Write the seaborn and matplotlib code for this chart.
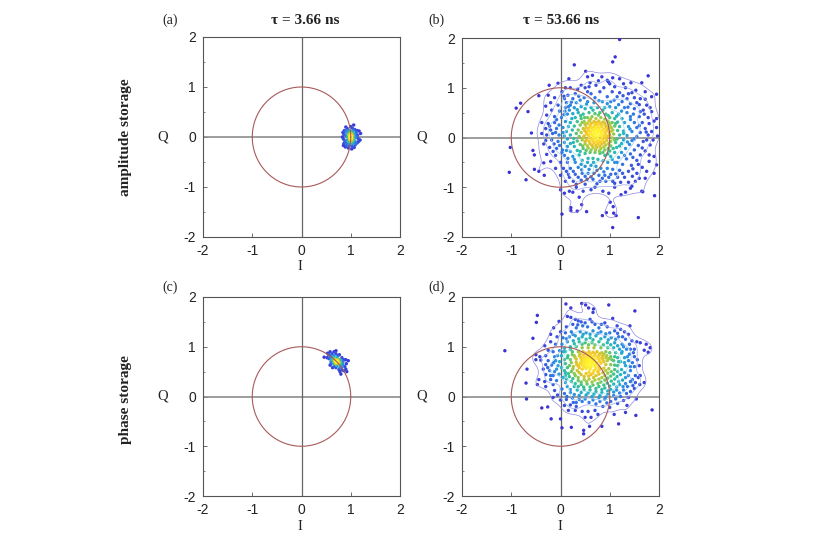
import numpy as np
import pandas as pd
import seaborn as sns
import matplotlib
matplotlib.use("Agg")
import matplotlib.pyplot as plt
from matplotlib.colors import LinearSegmentedColormap
from matplotlib.ticker import MultipleLocator

sns.set_theme(style="white")
plt.rcParams['font.family'] = ['Liberation Sans', 'DejaVu Sans']
plt.rcParams['axes.unicode_minus'] = False

# ---- values -----------------------------------------------------------------------
points_a = [(1.0,0.0),(0.98,0.02),(1.02,-0.02),(1.0,0.05),(1.0,-0.05),(0.97,-0.03),(1.03,0.03),(0.99,0.08),(1.01,-0.08),
 (0.96,0.05),(1.04,-0.05),(0.98,-0.1),(1.02,0.1),(0.94,0.0),(1.06,0.0),(1.0,0.12),(1.0,-0.13),(0.93,0.08),(1.07,-0.07),
 (0.92,-0.06),(1.08,0.06),(0.95,0.13),(1.05,0.13),(0.95,-0.14),(1.05,-0.13),(0.9,0.02),(1.1,-0.01),(0.89,0.1),(1.11,0.09),
 (0.9,-0.11),(1.1,-0.1),(0.93,0.17),(1.03,0.18),(1.08,0.15),(0.97,-0.18),(1.03,-0.19),(0.92,-0.16),(1.09,-0.16),
 (0.86,0.05),(0.85,-0.04),(1.14,0.04),(1.15,-0.03),(0.87,0.13),(1.13,0.13),(0.86,-0.13),(1.13,-0.12),(0.9,0.2),(1.0,0.21),
 (0.95,-0.22),(1.02,-0.24),(1.07,-0.21),(0.89,-0.2),(1.06,0.24),(1.2,0.07),(1.19,-0.06),(0.83,0.0),(0.85,-0.17),(1.17,0.12),
 (0.99,0.03),(1.01,0.03),(0.99,-0.03),(1.01,-0.04),(0.98,0.06),(1.02,0.06),(0.98,-0.06),(1.02,-0.07),(1.0,0.09),(1.0,-0.09),
 (1.0,0.01),(1.0,-0.02),(0.99,0.0),(1.01,0.0),(0.97,0.09),(1.03,-0.1),(0.96,-0.08),(1.04,0.08),(0.91,0.12),(1.09,-0.13),
 (0.84,0.09),(1.16,-0.09),(0.88,-0.08),(1.12,0.02)]

points_c = [(0.72,0.70),(0.70,0.72),(0.74,0.68),(0.68,0.74),(0.76,0.66),(0.66,0.76),(0.78,0.64),(0.71,0.68),(0.73,0.72),
 (0.69,0.70),(0.75,0.70),(0.64,0.78),(0.8,0.62),(0.67,0.71),(0.77,0.69),(0.70,0.66),(0.74,0.74),(0.62,0.80),(0.82,0.6),
 (0.64,0.72),(0.68,0.66),(0.76,0.74),(0.8,0.68),(0.72,0.62),(0.72,0.78),(0.6,0.76),(0.66,0.82),(0.78,0.58),(0.84,0.64),
 (0.6,0.7),(0.65,0.66),(0.79,0.74),(0.84,0.7),(0.7,0.58),(0.74,0.82),(0.58,0.82),(0.62,0.86),(0.82,0.54),(0.88,0.6),
 (0.56,0.76),(0.6,0.66),(0.66,0.6),(0.82,0.78),(0.86,0.74),(0.76,0.54),(0.7,0.86),(0.55,0.84),(0.66,0.9),(0.58,0.9),
 (0.78,0.5),(0.85,0.52),(0.91,0.66),(0.9,0.55),(0.52,0.78),(0.58,0.63),(0.63,0.58),(0.9,0.74),(0.77,0.84),(0.46,0.79),
 (0.8,0.45),(0.7,0.92),(0.95,0.72),(0.92,0.5),(0.53,0.87),
 (0.71,0.71),(0.73,0.69),(0.69,0.73),(0.75,0.67),(0.67,0.75),(0.72,0.73),(0.7,0.69),(0.65,0.8),(0.79,0.62),(0.62,0.74),(0.83,0.66)]

points_b = [(1.20,1.97),(1.11,1.62),(1.06,1.52),(0.28,1.46),(0.51,1.33),(1.78,1.24),(0.17,1.18),(-0.05,1.09),(-0.23,1.05),
 (-0.44,0.84),(-0.81,0.69),(-0.90,0.59),(-0.66,0.52),(-0.59,0.09),(-1.02,-0.20),(-1.04,-0.70),(-0.70,-0.85),(-0.53,-0.64),
 (-0.44,-0.68),(-0.56,-0.26),(-0.53,-0.35),(-0.33,-0.76),(-0.34,-0.51),(0.03,-1.54),(0.21,-1.41),(0.21,-1.47),(0.34,-1.48),
 (0.43,-1.35),(0.53,-1.49),(0.85,-1.57),(0.93,-1.51),(1.01,-1.30),(1.07,-1.39),(1.08,-1.52),(1.13,-1.57),(1.06,-1.81),
 (1.58,-1.61),(1.91,-1.17),(1.65,-1.08),(1.67,-1.09),
 (0.65,1.25),(0.55,1.22),(0.84,1.22),(0.95,1.15),(1.2,1.18),(1.28,1.08),(0.97,1.12),(1.0,1.08),(0.72,1.05),(0.6,1.1),
 (0.5,1.0),(0.42,1.05),(0.35,0.97),(0.2,1.0),(0.1,1.0),(0.03,0.92),(1.43,1.1),(1.65,1.1),(1.32,1.0),(1.1,1.02),(0.88,1.0),
 (1.53,0.95),(1.72,0.92),(1.85,0.82),(1.95,0.87),(1.38,0.88),(1.2,0.9),(1.05,0.92),(0.8,0.92),(0.62,0.88),(0.55,0.92),
 (0.3,0.88),(0.15,0.85),(1.5,0.8),(1.62,0.78),(1.72,0.77),(1.35,0.78),(1.15,0.82),(0.95,0.82),(0.7,0.8),(0.48,0.8),(0.25,0.78),(0.08,0.78),
 (0.12,0.7),(0.2,0.65),(0.32,0.7),(0.4,0.75),(0.55,0.72),(0.68,0.7),(0.85,0.72),(1.02,0.72),(1.25,0.72),(1.42,0.68),(1.6,0.66),
 (1.75,0.65),(1.82,0.6),(0.1,0.6),(0.18,0.55),(0.28,0.6),(0.42,0.62),(0.5,0.58),(0.62,0.6),(0.75,0.6),(0.9,0.6),(1.0,0.62),
 (1.12,0.6),(1.3,0.6),(1.5,0.58),(1.68,0.55),(-0.2,0.7),(-0.05,0.65),(-0.18,0.55),(-0.02,0.53),(-0.3,0.63),(0.14,0.47),(0.25,0.48),
 (0.36,0.5),(0.46,0.47),(0.58,0.5),(0.7,0.48),(0.8,0.5),(0.92,0.47),(1.05,0.5),(1.18,0.47),(1.35,0.5),(1.48,0.47),(1.6,0.42),
 (1.78,0.4),(1.95,0.38),(-0.12,0.42),(-0.28,0.45),(0.02,0.4),(0.3,0.4),(0.42,0.38),(0.55,0.4),(0.64,0.42),(0.72,0.38),(0.82,0.4),
 (0.9,0.37),(1.0,0.4),(1.1,0.38),(1.25,0.38),(1.42,0.36),(1.9,0.33),
 (0.1,0.32),(0.2,0.3),(0.34,0.32),(0.48,0.32),(0.58,0.33),(0.68,0.32),(0.78,0.33),(0.86,0.31),(0.96,0.33),(1.05,0.3),(1.16,0.31),(1.3,0.3),(1.5,0.3),(1.66,0.3),(1.8,0.28),
 (-0.38,0.3),(-0.25,0.28),(-0.12,0.3),(-0.03,0.25),(-0.3,0.18),(-0.2,0.15),(-0.08,0.18),(0.05,0.2),(0.16,0.22),(0.28,0.23),(0.4,0.25),(0.5,0.26),(0.6,0.25),
 (0.7,0.26),(0.76,0.25),(0.84,0.25),(0.92,0.24),(1.0,0.25),(1.1,0.23),(1.2,0.22),(1.38,0.22),(1.55,0.2),(1.72,0.18),(1.95,0.2),
 (0.12,0.12),(0.24,0.15),(0.36,0.15),(0.46,0.18),(0.56,0.18),(0.64,0.19),(0.72,0.18),(0.79,0.19),(0.88,0.17),(0.97,0.18),(1.06,0.15),(1.16,0.14),(1.28,0.13),(1.45,0.12),(1.62,0.1),(1.85,0.12),
 (-0.38,0.08),(-0.28,0.05),(-0.16,0.08),(-0.03,0.05),(0.08,0.03),(0.2,0.05),(0.32,0.08),(0.42,0.1),(0.52,0.11),(0.6,0.12),(0.68,0.12),(0.75,0.12),(0.82,0.11),(0.9,0.1),(0.99,0.1),(1.08,0.07),(1.2,0.05),(1.35,0.04),(1.55,0.02),(1.78,0.05),(1.97,0.03),
 (0.14,-0.03),(0.27,-0.02),(0.38,0.02),(0.48,0.03),(0.56,0.05),(0.64,0.05),(0.72,0.05),(0.8,0.04),(0.88,0.03),(0.96,0.02),(1.05,-0.01),(1.15,-0.03),(1.28,-0.05),(1.45,-0.06),(1.68,-0.08),
 (-0.3,-0.06),(-0.18,-0.05),(-0.05,-0.08),(0.08,-0.1),(0.2,-0.12),(0.34,-0.07),(0.44,-0.05),(0.53,-0.04),(0.62,-0.03),(0.7,-0.03),(0.78,-0.04),(0.86,-0.05),(0.94,-0.06),(1.02,-0.08),(1.12,-0.1),(1.24,-0.12),(1.4,-0.14),(1.58,-0.16),(1.82,-0.15),
 (0.14,-0.18),(0.28,-0.18),(0.4,-0.14),(0.5,-0.13),(0.6,-0.12),(0.68,-0.11),(0.76,-0.12),(0.84,-0.13),(0.92,-0.15),(1.02,-0.17),(1.14,-0.2),(1.32,-0.22),(1.5,-0.25),(1.72,-0.27),
 (-0.22,-0.2),(-0.08,-0.22),(0.04,-0.25),(0.2,-0.28),(0.34,-0.26),(0.46,-0.22),(0.56,-0.21),(0.66,-0.2),(0.74,-0.2),(0.82,-0.22),(0.9,-0.25),(1.0,-0.27),(1.1,-0.3),(1.24,-0.3),(1.42,-0.33),(1.62,-0.35),(1.9,-0.38),
 (-0.1,-0.36),(0.08,-0.36),(0.25,-0.38),(0.38,-0.35),(0.5,-0.32),(0.6,-0.3),(0.7,-0.3),(0.8,-0.32),(0.9,-0.36),(1.02,-0.38),(1.18,-0.4),(1.34,-0.43),(1.55,-0.46),(1.8,-0.48),
 (-0.2,-0.48),(0.0,-0.5),(0.14,-0.5),(0.3,-0.5),(0.44,-0.46),(0.56,-0.42),(0.66,-0.42),(0.76,-0.44),(0.86,-0.47),(0.96,-0.5),(1.1,-0.5),(1.26,-0.54),(1.44,-0.56),(1.66,-0.6),(1.95,-0.55),
 (-0.1,-0.62),(0.06,-0.62),(0.2,-0.62),(0.36,-0.6),(0.5,-0.58),(0.62,-0.56),(0.72,-0.58),(0.82,-0.62),(0.95,-0.62),(1.06,-0.64),(1.2,-0.66),(1.38,-0.68),(1.55,-0.72),(1.75,-0.68),
 (0.0,-0.76),(0.16,-0.74),(0.3,-0.74),(0.44,-0.72),(0.56,-0.72),(0.68,-0.72),(0.78,-0.76),(0.9,-0.76),(1.02,-0.74),(1.16,-0.8),(1.3,-0.8),(1.46,-0.78),(1.6,-0.82),
 (0.1,-0.88),(0.26,-0.88),(0.42,-0.86),(0.54,-0.84),(0.66,-0.84),(0.8,-0.88),(0.92,-0.88),(1.06,-0.88),(1.38,-0.9),(1.52,-0.88),
 (0.0,-1.05),(0.08,-1.12),(0.18,-1.08),(0.25,-1.1),(0.32,-1.0),(0.46,-1.08),(0.62,-1.05),(0.7,-1.0),(0.86,-1.08),(0.98,-1.12),(1.1,-1.0),(1.23,-1.15),(1.32,-1.1),(1.42,-1.02),(0.38,-1.2)]

extra_b = [(0.07,0.83),(0.22,0.71),(0.37,0.83),(0.16,0.62),(0.34,0.56),(0.09,0.53),(0.23,0.38),(0.41,0.44),(0.53,0.67),(0.78,0.74),
 (0.95,0.68),(1.18,0.66),(1.37,0.61),(1.55,0.7),(1.27,0.84),(1.45,0.9),(1.09,0.75),(0.58,1.02),(0.77,1.14),(1.06,1.2),
 (0.66,0.55),(0.86,0.55),(1.24,0.53),(1.42,0.42),(1.7,0.47),(0.49,0.4),(0.61,0.37),(0.77,0.45),(0.97,0.44),(1.14,0.43),
 (0.44,0.3),(0.54,0.28),(0.63,0.29),(0.73,0.3),(0.81,0.28),(0.9,0.29),(1.0,0.29),(1.12,0.28),(0.52,0.2),(0.6,0.21),
 (0.68,0.22),(0.76,0.21),(0.84,0.22),(0.93,0.21),(1.03,0.2),(0.49,0.14),(0.57,0.14),(0.65,0.15),(0.71,0.15),(0.78,0.15),
 (0.85,0.14),(0.94,0.14),(1.02,0.12),(0.53,0.07),(0.61,0.08),(0.68,0.08),(0.75,0.09),(0.83,0.07),(0.92,0.06),(1.0,0.05),
 (0.46,0.0),(0.58,0.01),(0.67,0.01),(0.75,0.0),(0.84,0.0),(0.92,-0.01),(1.1,-0.05),(0.5,-0.08),(0.58,-0.08),(0.66,-0.07),
 (0.74,-0.08),(0.81,-0.09),(0.89,-0.1),(0.98,-0.12),(0.45,-0.17),(0.55,-0.17),(0.64,-0.16),(0.72,-0.16),(0.8,-0.17),(0.88,-0.19),
 (0.97,-0.22),(0.4,-0.28),(0.52,-0.26),(0.62,-0.25),(0.71,-0.25),(0.79,-0.27),(0.86,-0.3),(0.96,-0.33),(1.07,-0.22),(1.2,-0.17),
 (1.36,-0.09),(1.5,-0.03),(1.28,0.08),(1.41,0.17),(1.6,0.24),(1.74,0.11),(1.88,-0.05),(1.66,-0.21),(1.47,-0.4),(1.3,-0.36),
 (1.15,-0.5),(1.05,-0.44),(0.55,-0.5),(0.67,-0.5),(0.42,-0.54),(0.28,-0.44),(0.15,-0.42),(0.03,-0.3),(0.12,-0.26),(0.26,-0.1),
 (0.05,0.1),(-0.1,0.1),(-0.22,0.23),(-0.34,-0.13),(-0.13,-0.13),(-0.02,-0.16),(-0.15,-0.28),(-0.28,-0.34),(-0.08,0.36),(0.07,0.46),
 (0.12,-0.68),(0.26,-0.68),(0.43,-0.65),(0.58,-0.64),(0.74,-0.66),(0.88,-0.69),(1.12,-0.73),(1.26,-0.72),(1.47,-0.63),(0.36,-0.8),
 (0.5,-0.78),(0.62,-0.79),(0.85,-0.82),(0.98,-0.8),(1.22,-0.9),(0.18,-0.8),(1.1,-0.92),(0.5,-0.94),(0.74,-0.93),(0.32,-0.94),
 (1.62,0.52),(1.85,0.52),(1.75,-0.05),(1.8,-0.35),(1.58,-0.54),(1.72,-0.82),(1.9,-0.72),(1.45,-0.98),(-0.12,0.8),(-0.25,0.85)]

points_d = [(-1.13,0.92),(-0.47,1.63),(-0.49,1.49),(-0.56,1.17),(0.11,1.86),(0.21,1.78),(0.43,1.87),(0.51,1.84),(0.57,1.78),
 (0.67,1.76),(0.66,1.69),(0.98,1.84),(1.51,1.72),(1.06,1.57),(0.14,1.61),(0.21,1.59),(-0.03,1.51),(1.41,1.42),(-0.68,0.55),
 (-0.70,0.27),(-0.69,-0.05),(-0.38,-0.23),(-0.26,-0.21),(-0.19,-0.45),(0.0,-0.45),(0.03,-0.63),(0.22,-0.62),(0.47,-0.68),
 (0.47,-0.75),(0.59,-0.60),(0.84,-0.60),(1.18,-0.55),(1.86,-0.27),(1.53,-0.38),(1.32,-0.32),(1.09,-0.36),(1.70,0.93),
 (1.74,1.05),(1.82,0.98),(1.78,0.89),(1.70,0.28),(1.61,0.24),
 (0.3,1.55),(0.36,1.52),(0.42,1.5),(0.6,1.55),(0.64,1.5),(0.25,1.45),(0.45,1.42),(0.7,1.45),(0.9,1.48),(0.12,1.4),(0.32,1.38),(0.55,1.4),(0.78,1.38),(0.95,1.4),(1.15,1.42),(1.22,1.35),(1.3,1.3),
 (-0.14,1.38),(0.0,1.3),(0.1,1.28),(0.22,1.3),(0.4,1.3),(0.52,1.28),(0.66,1.32),(0.82,1.3),(1.0,1.28),(1.1,1.32),(1.38,1.25),
 (-0.2,1.25),(-0.07,1.2),(0.05,1.18),(0.18,1.2),(0.3,1.22),(0.44,1.2),(0.6,1.18),(0.72,1.22),(0.9,1.2),(1.03,1.18),(1.18,1.2),(1.32,1.15),(1.45,1.12),
 (-0.2,1.1),(-0.1,1.05),(0.03,1.05),(0.14,1.1),(0.26,1.12),(0.38,1.1),(0.5,1.08),(0.64,1.08),(0.78,1.1),(0.95,1.08),(1.1,1.08),(1.25,1.05),(1.4,1.05),(1.55,1.1),(1.62,1.08),
 (-0.32,1.02),(-0.25,0.93),(0.08,0.97),(0.2,1.0),(0.32,1.0),(0.44,0.98),(0.56,0.98),(0.68,0.98),(0.82,0.98),(0.96,0.98),(1.08,0.98),(1.2,0.95),(1.34,0.95),(1.5,0.95),
 (-0.15,0.9),(-0.02,0.92),(0.1,0.9),(0.24,0.9),(0.36,0.9),(0.46,0.9),(0.58,0.9),(0.66,0.89),(0.74,0.9),(0.84,0.88),(0.92,0.9),(1.0,0.88),(1.12,0.88),(1.24,0.87),(1.4,0.85),
 (-0.5,0.84),(-0.42,0.8),(-0.3,0.82),(-0.12,0.8),(0.02,0.82),(0.15,0.82),(0.28,0.82),(0.38,0.82),(0.47,0.83),(0.55,0.83),(0.62,0.82),(0.7,0.82),(0.78,0.83),(0.86,0.82),(0.94,0.82),(1.02,0.8),(1.16,0.78),(1.3,0.78),(1.5,0.8),
 (-0.5,0.74),(-0.4,0.73),(-0.25,0.72),(-0.1,0.72),(0.08,0.74),(0.2,0.74),(0.32,0.75),(0.42,0.76),(0.5,0.76),(0.56,0.76),(0.62,0.76),(0.7,0.75),(0.78,0.75),(0.86,0.75),(0.95,0.72),(1.08,0.72),(1.22,0.7),(1.38,0.72),(1.56,0.74),
 (-0.3,0.64),(-0.18,0.63),(-0.05,0.62),(0.1,0.66),(0.22,0.68),(0.32,0.69),(0.42,0.7),(0.48,0.7),(0.54,0.71),(0.6,0.7),(0.66,0.68),(0.74,0.68),(0.82,0.67),(0.92,0.64),(1.02,0.64),(1.16,0.62),(1.32,0.62),(1.5,0.6),
 (-0.35,0.55),(-0.22,0.52),(-0.08,0.55),(0.02,0.58),(0.14,0.58),(0.26,0.6),(0.36,0.62),(0.44,0.63),(0.5,0.65),(0.56,0.64),(0.62,0.63),(0.7,0.61),(0.78,0.6),(0.88,0.57),(0.98,0.56),(1.1,0.54),(1.24,0.54),(1.42,0.52),
 (-0.3,0.44),(-0.15,0.42),(-0.03,0.45),(0.1,0.48),(0.22,0.5),(0.34,0.52),(0.44,0.55),(0.52,0.56),(0.6,0.55),(0.68,0.52),(0.76,0.5),(0.86,0.48),(0.96,0.47),(1.08,0.45),(1.22,0.44),(1.38,0.42),(1.52,0.42),(1.58,0.38),
 (-0.44,0.34),(-0.32,0.3),(-0.2,0.34),(-0.08,0.32),(0.05,0.38),(0.18,0.4),(0.3,0.42),(0.42,0.44),(0.52,0.46),(0.62,0.44),(0.72,0.42),(0.84,0.38),(0.96,0.37),(1.1,0.35),(1.26,0.33),(1.42,0.3),(1.52,0.28),
 (-0.47,0.24),(-0.3,0.2),(-0.15,0.24),(0.1,0.28),(0.22,0.3),(0.36,0.32),(0.48,0.34),(0.58,0.35),(0.7,0.33),(0.82,0.29),(0.95,0.27),(1.08,0.25),(1.2,0.24),(1.36,0.2),(1.47,0.22),
 (-0.12,0.12),(0.03,0.15),(0.14,0.2),(0.28,0.2),(0.42,0.24),(0.54,0.25),(0.66,0.23),(0.78,0.2),(0.9,0.17),(1.02,0.14),(1.14,0.13),(1.28,0.13),(1.42,0.1),
 (-0.15,-0.02),(-0.06,0.03),(0.08,0.06),(0.2,0.08),(0.34,0.13),(0.48,0.14),(0.6,0.13),(0.72,0.1),(0.84,0.08),(0.96,0.05),(1.08,0.02),(1.22,0.0),(1.38,-0.02),(1.54,-0.05),
 (0.0,-0.07),(0.12,-0.06),(0.24,-0.03),(0.38,0.02),(0.52,0.03),(0.64,0.0),(0.78,-0.02),(0.9,-0.05),(1.02,-0.1),(1.16,-0.14),(1.35,-0.18),
 (0.08,-0.18),(0.2,-0.17),(0.32,-0.12),(0.44,-0.1),(0.58,-0.12),(0.72,-0.15),(0.86,-0.2),(1.0,-0.22),
 (0.16,-0.28),(0.3,-0.28),(0.44,-0.3),(0.56,-0.3),(0.7,-0.28),(0.5,-0.42),(0.62,-0.42),(0.76,-0.36)]

extra_d = [(0.41,0.79),(0.47,0.77),(0.53,0.79),(0.59,0.79),(0.65,0.79),(0.44,0.72),(0.51,0.73),(0.57,0.73),(0.63,0.73),(0.69,0.72),
 (0.4,0.66),(0.46,0.66),(0.53,0.67),(0.59,0.67),(0.65,0.65),(0.72,0.64),(0.38,0.58),(0.48,0.6),(0.55,0.6),(0.62,0.59),
 (0.72,0.56),(0.8,0.71),(0.88,0.7),(0.76,0.79),(0.84,0.78),(0.92,0.78),(0.98,0.76),(1.04,0.74),(1.1,0.8),(0.52,0.87),
 (0.61,0.86),(0.7,0.86),(0.8,0.86),(0.88,0.85),(0.4,0.86),(0.3,0.78),(0.24,0.84),(0.14,0.78),(0.33,0.64),(0.18,0.62),
 (0.25,0.55),(0.08,0.52),(0.16,0.46),(0.28,0.46),(0.38,0.48),(0.58,0.49),(0.66,0.47),(0.8,0.55),(0.92,0.52),(1.03,0.5),
 (1.16,0.5),(1.3,0.48),(0.78,0.45),(0.9,0.42),(1.02,0.41),(1.15,0.4),(1.32,0.38),(0.12,0.35),(0.25,0.36),(0.36,0.38),
 (0.48,0.4),(0.57,0.41),(0.67,0.38),(0.78,0.35),(0.9,0.33),(1.03,0.31),(1.18,0.3),(0.3,0.26),(0.42,0.29),(0.53,0.3),
 (0.64,0.29),(0.76,0.26),(0.88,0.23),(1.0,0.21),(1.14,0.19),(1.27,0.2),(0.2,0.14),(0.36,0.2),(0.47,0.19),(0.6,0.19),
 (0.72,0.16),(0.84,0.14),(0.96,0.11),(1.08,0.09),(1.2,0.07),(1.34,0.06),(0.13,0.0),(0.28,0.04),(0.42,0.08),(0.56,0.07),
 (0.68,0.05),(0.8,0.02),(0.92,-0.01),(1.12,-0.05),(1.28,-0.08),(0.26,-0.12),(0.38,-0.06),(0.5,-0.05),(0.66,-0.07),(0.8,-0.1),
 (0.94,-0.13),(0.1,0.42),(-0.12,0.5),(-0.2,0.42),(-0.26,0.58),(-0.14,0.68),(-0.02,0.7),(-0.06,0.82),(0.06,0.9),(0.2,0.95),
 (0.28,1.06),(0.44,1.05),(0.57,1.04),(0.7,1.04),(0.87,1.04),(1.02,1.04),(1.16,1.02),(1.28,1.0),(1.42,0.95),(0.37,1.16),
 (0.52,1.15),(0.66,1.14),(0.82,1.16),(0.97,1.14),(1.12,1.15),(1.26,1.2),(0.12,1.16),(0.25,1.25),(0.46,1.25),(0.6,1.25),
 (0.76,1.27),(0.92,1.26),(1.16,1.27),(0.35,1.44),(0.5,1.48),(0.83,1.45),(1.25,0.9),(1.36,0.8),(1.46,0.68),(1.42,0.6),
 (1.3,0.68),(1.18,0.7),(1.1,0.63),(1.46,0.34),(1.32,0.26),(1.5,0.16),(1.6,0.62),(1.62,0.42),(1.48,0.88),(0.32,-0.2)]

tau_labels = ["τ = 3.66 ns", "τ = 53.66 ns"]
row_labels = ["amplitude storage", "phase storage"]
panel_labels = ["(a)", "(b)", "(c)", "(d)"]
ticks = [-2, -1, 0, 1, 2]
colors = ["#3b2fd2", "#3a4fdc", "#2f86e6", "#24b4c8", "#3fc488", "#a8cc40", "#f4c428", "#fff530"]
contour_colors = ["#8f86e0", "#9aa4ea", "#a4c8f0", "#a8dce8"]

# ---- helpers --------------------------------------------------------------------------
cmap = LinearSegmentedColormap.from_list("dens", colors)

def density(xy, bw):
    xy = np.asarray(xy)
    d = ((xy[:, None, :] - xy[None, :, :]) ** 2).sum(-1)
    return np.exp(-d / (2 * bw ** 2)).sum(1)

def frame(pts, bw, gamma):
    df = pd.DataFrame(pts, columns=["I", "Q"])
    dens = density(pts, bw)
    df["dens"] = (dens / dens.max()) ** gamma
    return df.sort_values("dens")

W, H = 830, 538
fig = plt.figure(figsize=(W / 100, H / 100), dpi=100)

def px_axes(l, t, r, b):
    return fig.add_axes([l / W, 1 - b / H, (r - l) / W, (b - t) / H])

panels = [
    (points_a, 203, 37, 400, 237, 0.05, False, 1.5),
    (points_b + extra_b, 462, 38, 659, 237, 0.28, True, 1.5),
    (points_c, 203, 297, 400, 496, 0.05, False, 1.5),
    (points_d + extra_d, 462, 297, 659, 496, 0.28, True, 1.5),
]
theta = np.linspace(0, 2 * np.pi, 361)
for pts, l, t, r, b, bw, contours, gamma in panels:
    ax = px_axes(l, t, r, b)
    df = frame(pts, bw, gamma)
    ax.axhline(0, color="#8c8c8c", lw=1.2, zorder=1)
    ax.axvline(0, color="#666666", lw=0.9, zorder=1)
    sns.scatterplot(data=df, x="I", y="Q", hue="dens", palette=cmap, hue_norm=(0, 1),
                    s=6, linewidth=0, legend=False, ax=ax, zorder=3)
    if contours:
        sns.kdeplot(data=df, x="I", y="Q", ax=ax, levels=[0.1, 0.22, 0.4, 0.6],
                    colors=contour_colors, linewidths=0.5, bw_adjust=0.6, zorder=3.5)
    ax.plot(np.cos(theta), np.sin(theta), color="#a85a5a", lw=0.8, zorder=4)
    ax.set_xlim(-2, 2)
    ax.set_ylim(-2, 2)
    ax.set_xticks(ticks)
    ax.set_yticks(ticks)
    ax.xaxis.set_minor_locator(MultipleLocator(0.5))
    ax.yaxis.set_minor_locator(MultipleLocator(0.5))
    ax.tick_params(which="major", direction="in", length=3, width=0.6, color="#555555",
                   labelsize=10, labelcolor="#222222", bottom=True, left=True)
    ax.tick_params(axis="x", which="major", pad=5)
    ax.tick_params(axis="y", which="major", pad=5)
    ax.tick_params(which="minor", direction="in", length=1.5, width=0.5, color="#555555",
                   bottom=False, left=True)
    ax.set_xlabel("")
    ax.set_ylabel("")
    for s in ax.spines.values():
        s.set_linewidth(0.8)
        s.set_color("#555555")

serif = ["Liberation Serif", "DejaVu Serif"]
def ftext(x, y, s, **kw):
    fig.text(x / W, 1 - y / H, s, family=serif, ha="center", va="center", color="#222222", **kw)

for (x, y), s in zip([(170, 20), (436, 20), (170, 287), (436, 287)], panel_labels):
    ftext(x, y, s, fontsize=10)
for x, s in zip([305, 561], tau_labels):
    ftext(x, 20, s, fontsize=11, fontweight="bold")
for y, s in zip([137, 400], row_labels):
    ftext(126, y, s, fontsize=11, fontweight="bold", rotation=90)
for x in [300, 560]:
    for y in [267, 526]:
        ftext(x, y, "I", fontsize=10.5)
for x in [163, 422]:
    for y in [137, 396]:
        ftext(x, y, "Q", fontsize=10.5)

fig.savefig("out.png", dpi=100)
